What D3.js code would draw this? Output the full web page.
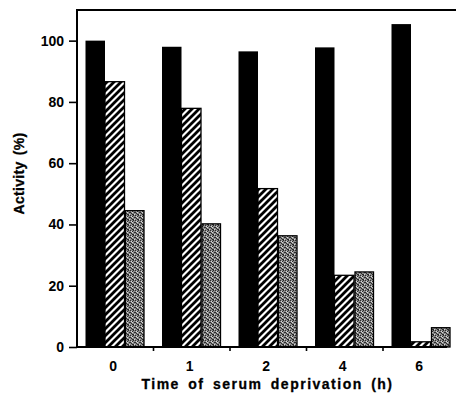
<!DOCTYPE html>
<html><head><meta charset="utf-8">
<script src="https://cdn.jsdelivr.net/npm/d3@7"></script>
<style>
html,body{margin:0;padding:0;background:#fff;}
svg{display:block;font-family:"Liberation Sans",Arial,sans-serif;font-weight:bold;}
</style></head>
<body>
<svg id="c" width="456" height="401"></svg>
<script>
const categories = ["0","1","2","4","6"];
const series = ["control","treatedA","treatedB"];
const controlValues = [100, 98, 96.5, 97.8, 105.4];
const hatchedValues = [86.6, 77.9, 51.7, 23.4, 1.7];
const grayValues = [44.5, 40.2, 36.3, 24.5, 6.3];
const yTicks = [0, 20, 40, 60, 80, 100];
const xTitle = "Time of serum deprivation (h)";
const yTitle = "Activity (%)";

const table = categories.map((c,i)=>({cat:c, values:[controlValues[i], hatchedValues[i], grayValues[i]]}));

const svg = d3.select("#c");
const mLeft = 77, mRight = 459.5, mTop = 10, mBottom = 347;

const defs = svg.append("defs");
const hp = defs.append("pattern").attr("id","hatch").attr("patternUnits","userSpaceOnUse")
  .attr("width",7).attr("height",7);
hp.append("rect").attr("width",7).attr("height",7).attr("fill","#fff");
hp.append("path").attr("d","M-1,8 L8,-1 M-4.5,4.5 L4.5,-4.5 M2.5,11.5 L11.5,2.5")
  .attr("stroke","#000").attr("stroke-width",2.8);
const gp = defs.append("pattern").attr("id","stip").attr("patternUnits","userSpaceOnUse")
  .attr("width",5).attr("height",5);
gp.append("rect").attr("width",5).attr("height",5).attr("fill","#8a8a8a");
[[0,0],[2,1],[4,2],[1,3],[3,4],[3,0],[0,2],[2,4]].forEach(p=>gp.append("rect").attr("x",p[0]).attr("y",p[1]).attr("width",1).attr("height",1).attr("fill","#2a2a2a"));
[[1,1],[4,4],[2,2]].forEach(p=>gp.append("rect").attr("x",p[0]).attr("y",p[1]).attr("width",1).attr("height",1).attr("fill","#d8d8d8"));

const fills = ["#000","url(#hatch)","url(#stip)"];

const x0 = d3.scaleBand().domain(categories).range([mLeft, mRight]).padding(0);
const x1 = d3.scaleBand().domain(series).range([8.5, 67]).padding(0);
const y = d3.scaleLinear().domain([0,110]).range([mBottom, mTop]);

// bars
const g = svg.append("g");
table.forEach(row=>{
  row.values.forEach((v,j)=>{
    const bx = x0(row.cat) + x1(series[j]);
    const r = g.append("rect")
      .attr("x", bx + (j===2?1:0))
      .attr("y", y(v))
      .attr("width", x1.bandwidth() - (j===2?1:0))
      .attr("height", y(0)-y(v))
      .attr("fill", fills[j]);
    if(j>0) r.attr("stroke","#000").attr("stroke-width",1.3);
  });
});

// y axis
const yAxis = d3.axisLeft(y).tickValues(yTicks).tickSize(8).tickPadding(5).tickFormat(d3.format("d"));
const ya = svg.append("g").attr("transform",`translate(${mLeft},0)`).call(yAxis);
ya.select(".domain").remove();
ya.selectAll(".tick line").attr("stroke","#000").attr("stroke-width",1.6);
ya.selectAll(".tick text").attr("font-size",14).attr("font-weight","bold").attr("fill","#000")
  .attr("font-family","Liberation Sans, Arial, sans-serif");
svg.append("line").attr("x1",mLeft).attr("x2",mLeft).attr("y1",mTop).attr("y2",mBottom+1)
  .attr("stroke","#000").attr("stroke-width",2);

// top frame line
svg.append("line").attr("x1",mLeft-1).attr("x2",456).attr("y1",mTop).attr("y2",mTop)
  .attr("stroke","#000").attr("stroke-width",2);

// x axis
const xAxis = d3.axisBottom(x0).tickSize(0).tickPadding(14);
const xa = svg.append("g").attr("transform",`translate(-2,${mBottom})`).call(xAxis);
xa.select(".domain").remove();
xa.selectAll(".tick text").attr("font-size",14).attr("font-weight","bold").attr("fill","#000")
  .attr("font-family","Liberation Sans, Arial, sans-serif");
svg.append("line").attr("x1",mLeft-1).attr("x2",447).attr("y1",mBottom).attr("y2",mBottom)
  .attr("stroke","#000").attr("stroke-width",2);
svg.append("g").selectAll("line").data(categories.slice(1)).join("line")
  .attr("x1",d=>x0(d)).attr("x2",d=>x0(d)).attr("y1",mBottom).attr("y2",mBottom+4)
  .attr("stroke","#000").attr("stroke-width",1.6);

// titles
svg.append("text").attr("x",267.5).attr("y",389).attr("text-anchor","middle")
  .attr("font-size",14).attr("letter-spacing","1.5px").attr("word-spacing","3px")
  .attr("stroke","#000").attr("stroke-width",0.3)
  .text(xTitle);
svg.append("text").attr("transform","translate(24,173.5) rotate(-90)").attr("text-anchor","middle")
  .attr("font-size",14).attr("letter-spacing","0.3px").attr("word-spacing","2px")
  .attr("stroke","#000").attr("stroke-width",0.3)
  .text(yTitle);
</script>
</body></html>
